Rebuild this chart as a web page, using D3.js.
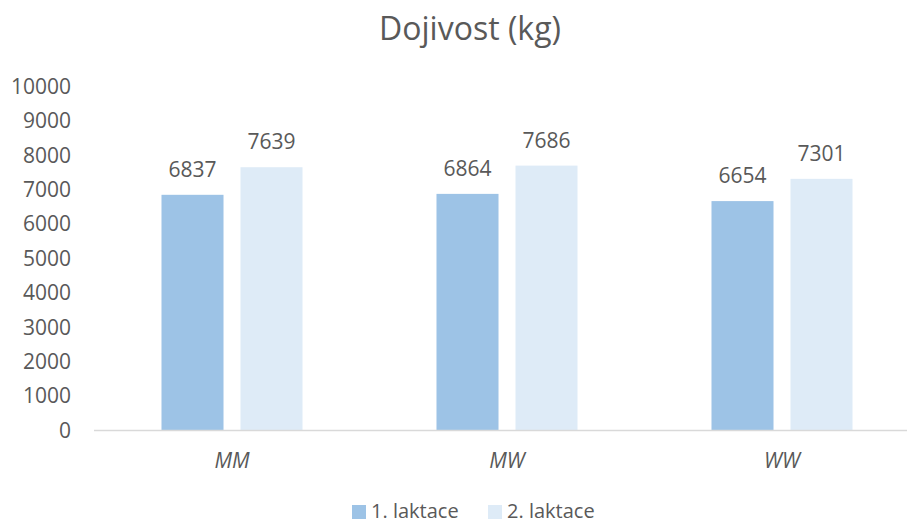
<!DOCTYPE html>
<html>
<head>
<meta charset="utf-8">
<script src="https://cdn.jsdelivr.net/npm/d3@7"></script>
<style>
  html, body { margin: 0; padding: 0; background: #fff; }
  svg { display: block; font-family: "Open Sans", sans-serif; }
</style>
</head>
<body>
<svg id="chart" width="907" height="524"></svg>
<script>
const title = "Dojivost (kg)";
const categories = ["MM", "MW", "WW"];
const seriesNames = ["1. laktace", "2. laktace"];
const laktace1 = [6837, 6864, 6654];
const laktace2 = [7639, 7686, 7301];
const yTicks = [0, 1000, 2000, 3000, 4000, 5000, 6000, 7000, 8000, 9000, 10000];
const colors = ["#9DC3E6", "#DEEBF7"];

const seriesValues = [laktace1, laktace2];
const svg = d3.select("#chart");
const textColor = "#595959";

const y = d3.scaleLinear().domain([0, 10000]).range([430, 86]);
const x0 = d3.scaleBand().domain(categories).range([94.5, 919.5]).padding(0);
const x1 = d3.scaleBand().domain(seriesNames).range([0, x0.bandwidth()])
  .paddingInner(0.215).paddingOuter(0.848);

// Title
svg.append("text")
  .attr("x", 470).attr("y", 40)
  .attr("text-anchor", "middle")
  .attr("font-size", 32)
  .attr("fill", textColor)
  .text(title);

// Y axis labels
const yAxis = d3.axisLeft(y).tickValues(yTicks).tickSize(0).tickPadding(0).tickFormat(d3.format("d"));
const yg = svg.append("g").attr("transform", "translate(71,0)").call(yAxis);
yg.select(".domain").remove();
yg.selectAll("text").attr("font-size", 21).attr("fill", textColor)
  .attr("font-family", "Open Sans, sans-serif").attr("dy", "0.35em");

// Bars
const groups = svg.append("g").selectAll("g")
  .data(categories)
  .join("g")
  .attr("transform", d => `translate(${x0(d)},0)`);

groups.selectAll("rect")
  .data((d, i) => seriesNames.map((s, j) => ({ s, v: seriesValues[j][i], j })))
  .join("rect")
  .attr("x", d => x1(d.s))
  .attr("width", x1.bandwidth())
  .attr("y", d => y(d.v))
  .attr("height", d => y(0) - y(d.v))
  .attr("fill", d => colors[d.j]);

groups.selectAll("text.val")
  .data((d, i) => seriesNames.map((s, j) => ({ s, v: seriesValues[j][i], j })))
  .join("text")
  .attr("class", "val")
  .attr("x", d => x1(d.s) + x1.bandwidth() / 2)
  .attr("y", d => y(d.v) - 18)
  .attr("text-anchor", "middle")
  .attr("font-size", 21)
  .attr("fill", textColor)
  .text(d => d.v);

// X axis
const xAxis = d3.axisBottom(x0).tickSize(0).tickPadding(0);
const xg = svg.append("g").attr("transform", `translate(0,${y(0)})`).call(xAxis);
xg.select(".domain").remove();
xg.append("line")
  .attr("x1", 94).attr("x2", 907)
  .attr("y1", 0.5).attr("y2", 0.5)
  .attr("stroke", "#D9D9D9").attr("stroke-width", 1.5);
xg.selectAll(".tick text")
  .attr("y", 38)
  .attr("dy", 0)
  .attr("font-size", 21)
  .attr("font-style", "italic")
  .attr("font-family", "Open Sans, sans-serif")
  .attr("fill", textColor);

// Legend
const legendItems = [
  { name: seriesNames[0], color: colors[0], x: 352 },
  { name: seriesNames[1], color: colors[1], x: 488 }
];
const lg = svg.append("g");
legendItems.forEach(it => {
  lg.append("rect").attr("x", it.x).attr("y", 505).attr("width", 14).attr("height", 14).attr("fill", it.color);
  lg.append("text").attr("x", it.x + 19).attr("y", 518)
    .attr("font-size", 20).attr("fill", textColor).text(it.name);
});
</script>
</body>
</html>
